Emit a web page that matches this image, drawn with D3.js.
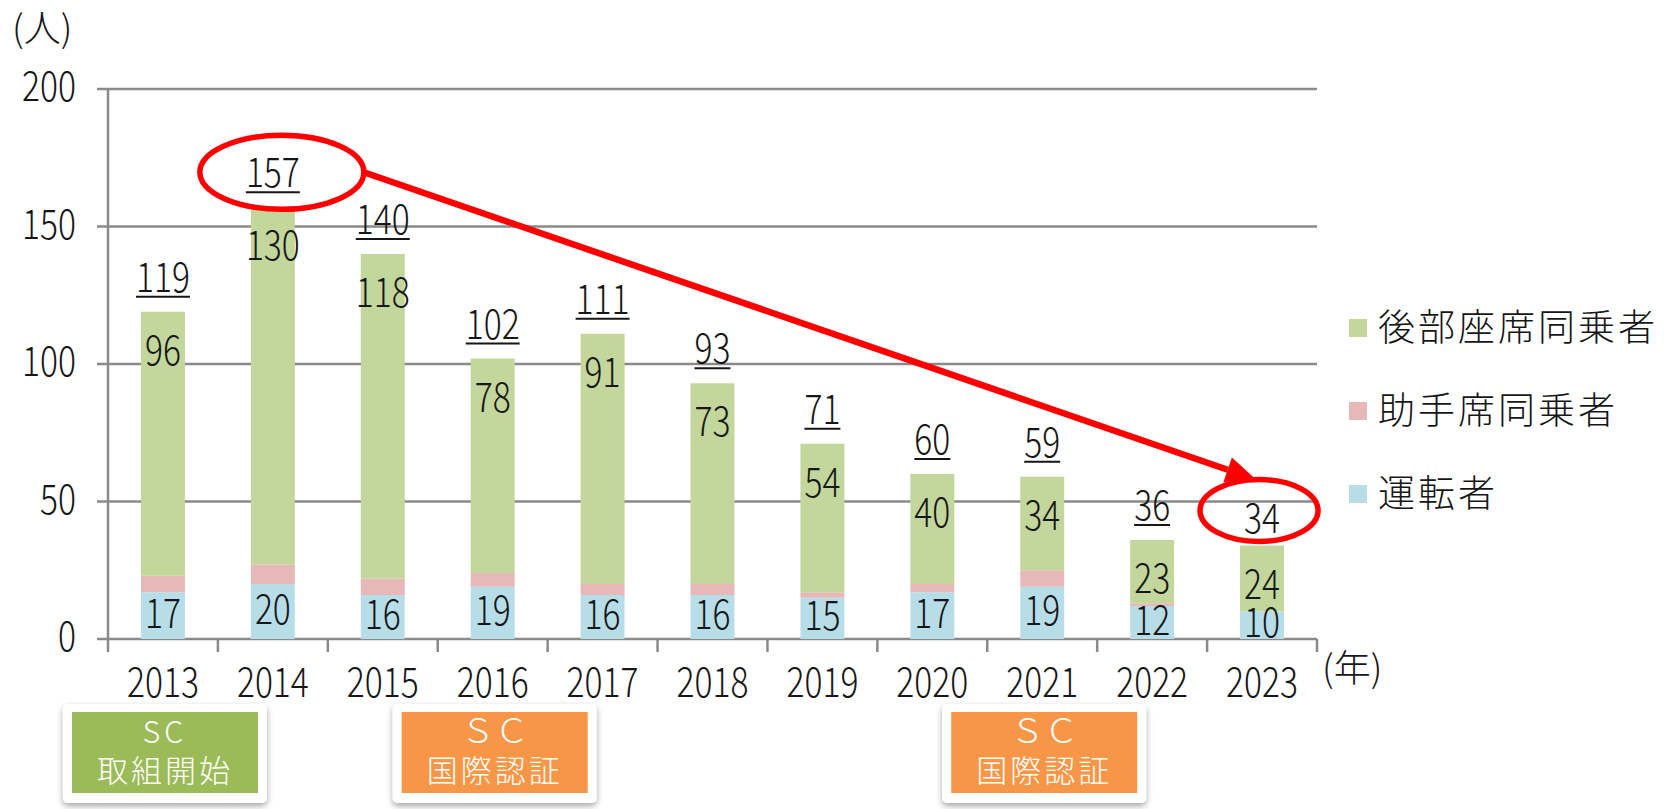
<!DOCTYPE html>
<html>
<head>
<meta charset="utf-8">
<script src="https://cdn.jsdelivr.net/npm/d3@7/dist/d3.min.js"></script>
<style>
  html, body { margin: 0; padding: 0; background: #fff; }
  svg { display: block; font-family: "Noto Sans CJK JP", "Noto Sans", sans-serif; font-weight: 300; }
</style>
</head>
<body>
<div id="chart"></div>
<script>
// Data.
var years = ['2013', '2014', '2015', '2016', '2017', '2018', '2019', '2020', '2021', '2022', '2023'];
var drivers = [17, 20, 16, 19, 16, 16, 15, 17, 19, 12, 10];
var frontPassengers = [6, 7, 6, 5, 4, 4, 2, 3, 6, 1, 0];
var rearPassengers = [96, 130, 118, 78, 91, 73, 54, 40, 34, 23, 24];
var seriesNames = ['運転者', '助手席同乗者', '後部座席同乗者'];
var legendOrder = ['後部座席同乗者', '助手席同乗者', '運転者'];
var yTicks = [0, 50, 100, 150, 200];
var highlightYears = ['2014', '2023'];
var milestoneYears = ['2013', '2016', '2021'];
var milestoneLines = [['SC', '取組開始'], ['ＳＣ', '国際認証'], ['ＳＣ', '国際認証']];
var milestoneKinds = ['start', 'cert', 'cert'];

var W = 1675, H = 809;
var colors = { '運転者': '#b7dee8', '助手席同乗者': '#e6b9b8', '後部座席同乗者': '#c3d69b' };
var boxColors = { start: '#9bbb59', cert: '#f79646' };
var axisColor = '#8a8a8a';
var textColor = '#161616';
var numScale = 0.82; // narrow digits like the original font

var rows = years.map(function(y, i) {
    return { year: y, '運転者': drivers[i], '助手席同乗者': frontPassengers[i], '後部座席同乗者': rearPassengers[i] };
});

var svg = d3.select('#chart').append('svg').attr('width', W).attr('height', H);

var defs = svg.append('defs');
var shadow = defs.append('filter').attr('id', 'shadow')
    .attr('x', '-10%').attr('y', '-10%').attr('width', '120%').attr('height', '130%');
shadow.append('feDropShadow').attr('dx', 0).attr('dy', 3).attr('stdDeviation', 3)
    .attr('flood-color', '#000').attr('flood-opacity', 0.35);

var x = d3.scaleBand().domain(years).range([108, 1317]).paddingInner(0.6).paddingOuter(0.3);
var y = d3.scaleLinear().domain([0, 200]).range([639, 89]);

var stack = d3.stack().keys(seriesNames);
var stacked = stack(rows);

// Narrow numeric text helper.
function numText(g, px, py, str, size, anchor) {
    return g.append('text')
        .attr('transform', 'translate(' + px + ',' + py + ') scale(' + numScale + ',1)')
        .attr('text-anchor', anchor || 'middle')
        .attr('font-size', size)
        .attr('fill', textColor)
        .text(str);
}

// Gridlines.
var grid = svg.append('g');
grid.selectAll('line').data(yTicks).enter().append('line')
    .attr('x1', 97).attr('x2', 1317)
    .attr('y1', d => y(d)).attr('y2', d => y(d))
    .attr('stroke', axisColor).attr('stroke-width', 2.5);

// Y axis line.
svg.append('line')
    .attr('x1', 108).attr('x2', 108).attr('y1', y(200)).attr('y2', y(0))
    .attr('stroke', axisColor).attr('stroke-width', 2.5);

// X axis category boundary ticks.
var step = x.step();
var x0 = x.range()[0];
svg.append('g').selectAll('line').data(d3.range(years.length + 1)).enter().append('line')
    .attr('x1', i => x0 + i * step).attr('x2', i => x0 + i * step)
    .attr('y1', y(0)).attr('y2', y(0) + 13)
    .attr('stroke', axisColor).attr('stroke-width', 2.5);

// Bars.
var bars = svg.append('g');
stacked.forEach(function(layer) {
    bars.append('g').attr('fill', colors[layer.key])
        .selectAll('rect').data(layer).enter().append('rect')
        .attr('x', d => x(d.data.year))
        .attr('width', x.bandwidth())
        .attr('y', d => y(d[1]))
        .attr('height', d => y(d[0]) - y(d[1]));
});

var labels = svg.append('g');

// Y tick labels.
yTicks.forEach(function(t) {
    numText(labels, 76, y(t) + 12, t, 41, 'end');
});

// X labels.
years.forEach(function(yr) {
    numText(labels, x(yr) + x.bandwidth() / 2, 697, yr, 41, 'middle');
});

// Unit labels.
labels.append('text').attr('x', 12).attr('y', 42).attr('font-size', 37).attr('fill', textColor).text('(人)');
labels.append('text').attr('x', 1322).attr('y', 682).attr('font-size', 37).attr('fill', textColor).text('(年)');

// Segment labels: driver (centered) and rear passengers (near top).
rows.forEach(function(r) {
    var cx = x(r.year) + x.bandwidth() / 2;
    var d = r['運転者'];
    numText(labels, cx, y(d / 2) + 12, d, 41);
    var top = y(d + r['助手席同乗者'] + r['後部座席同乗者']);
    numText(labels, cx, top + 41 + 12, r['後部座席同乗者'], 41);
});

// Totals with underline.
rows.forEach(function(r, i) {
    var cx = x(r.year) + x.bandwidth() / 2;
    var total = r['運転者'] + r['助手席同乗者'] + r['後部座席同乗者'];
    var last = i === rows.length - 1;
    var t = numText(labels, cx, y(total) - (last ? 13 : 20), total, 41);
    if (!last) {
        var w = t.node().getBBox().width * numScale;
        labels.append('line')
            .attr('x1', cx - w / 2).attr('x2', cx + w / 2)
            .attr('y1', y(total) - 15).attr('y2', y(total) - 15)
            .attr('stroke', textColor).attr('stroke-width', 2);
    }
});

// Legend.
var legend = svg.append('g');
legendOrder.forEach(function(name, i) {
    var ly = 328 + i * 83;
    legend.append('rect').attr('x', 1349).attr('y', ly - 9).attr('width', 18).attr('height', 18)
        .attr('fill', colors[name]);
    legend.append('text').attr('x', 1378).attr('y', ly + 13).attr('font-size', 37)
        .attr('letter-spacing', 3).attr('fill', textColor).text(name);
});

// Highlight ellipses and arrow.
var ellipseSize = { '2014': [82, 37], '2023': [59, 31] };
var hl = svg.append('g');
var centers = highlightYears.map(function(yr) {
    var r = rows[years.indexOf(yr)];
    var total = r['運転者'] + r['助手席同乗者'] + r['後部座席同乗者'];
    return { cx: x(yr) + x.bandwidth() / 2 + (yr === '2014' ? 9 : -3), cy: y(total) - 35,
             rx: ellipseSize[yr][0], ry: ellipseSize[yr][1] };
});
hl.selectAll('ellipse').data(centers).enter().append('ellipse')
    .attr('cx', d => d.cx).attr('cy', d => d.cy).attr('rx', d => d.rx).attr('ry', d => d.ry)
    .attr('fill', 'none').attr('stroke', '#ff0000').attr('stroke-width', 5.5);

var a = centers[0], b = centers[1];
var sx = a.cx + a.rx, sy = a.cy;
var tx = b.cx - 3, ty = b.cy - b.ry;
var ang = Math.atan2(ty - sy, tx - sx);
var headLen = 30, headW = 13;
var bx = tx - headLen * Math.cos(ang), by = ty - headLen * Math.sin(ang);
hl.append('line').attr('x1', sx).attr('y1', sy).attr('x2', bx).attr('y2', by)
    .attr('stroke', '#ff0000').attr('stroke-width', 6.5);
hl.append('path')
    .attr('d', 'M' + tx + ',' + ty +
        'L' + (bx + headW * Math.sin(ang)) + ',' + (by - headW * Math.cos(ang)) +
        'L' + (bx - headW * Math.sin(ang)) + ',' + (by + headW * Math.cos(ang)) + 'Z')
    .attr('fill', '#ff0000');

// Milestone boxes below the axis.
var boxes = svg.append('g');
milestoneYears.forEach(function(yr, i) {
    var cx = x(yr) + x.bandwidth() / 2 + 2;
    var cardW = 204, cardH = 99, top = 704;
    var g = boxes.append('g');
    g.append('rect').attr('x', cx - cardW / 2).attr('y', top).attr('width', cardW).attr('height', cardH)
        .attr('rx', 5).attr('fill', '#fff').attr('filter', 'url(#shadow)');
    g.append('rect').attr('x', cx - cardW / 2 + 9).attr('y', top + 8).attr('width', cardW - 18).attr('height', cardH - 18)
        .attr('fill', boxColors[milestoneKinds[i]]);
    var lines = milestoneLines[i];
    var half = lines[0] === 'SC';
    g.append('text').attr('x', cx).attr('y', top + 39).attr('text-anchor', 'middle')
        .attr('font-size', half ? 30 : 34)
        .attr('letter-spacing', half ? 4 : 0)
        .attr('fill', '#fff').text(lines[0]);
    g.append('text').attr('x', cx).attr('y', top + 78).attr('text-anchor', 'middle')
        .attr('font-size', 31).attr('letter-spacing', 3)
        .attr('fill', '#fff').text(lines[1]);
});
</script>
</body>
</html>
